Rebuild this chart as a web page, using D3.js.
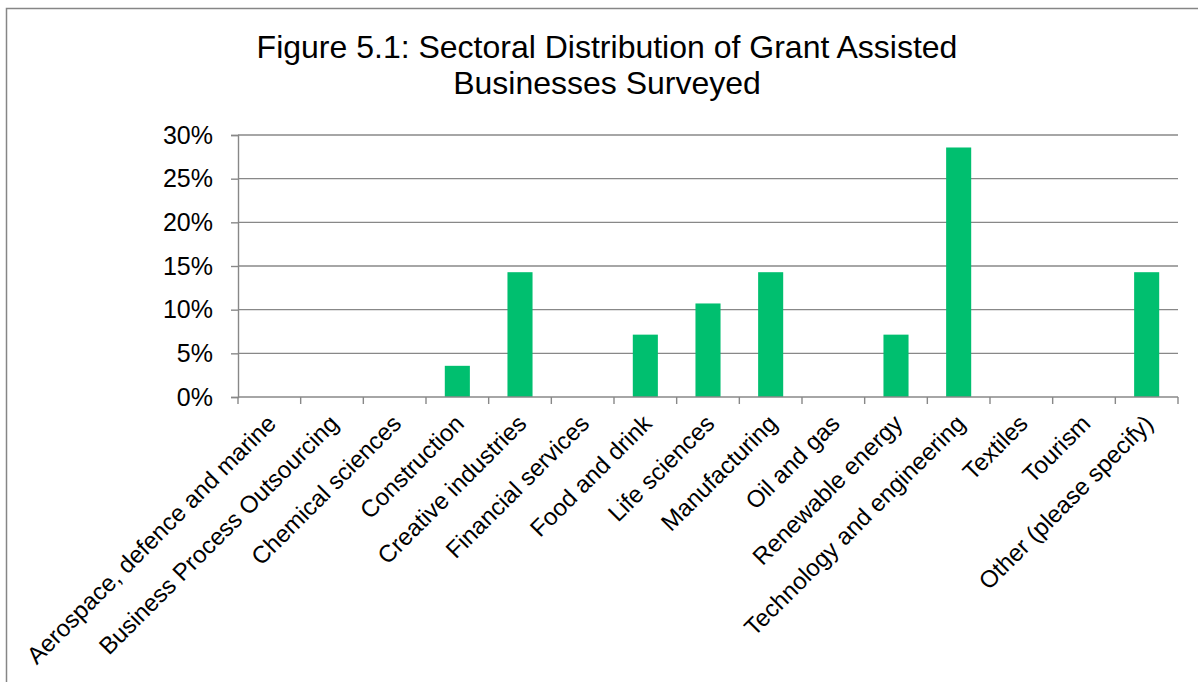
<!DOCTYPE html>
<html><head><meta charset="utf-8">
<script src="https://cdn.jsdelivr.net/npm/d3@7"></script>
<style>body{margin:0;background:#fff}svg{display:block}text{font-family:"Liberation Sans",Arial,sans-serif;fill:#000}</style>
</head><body>
<script>
const categories = ["Aerospace, defence and marine","Business Process Outsourcing","Chemical sciences","Construction","Creative industries","Financial services","Food and drink","Life sciences","Manufacturing","Oil and gas","Renewable energy","Technology and engineering","Textiles","Tourism","Other (please specify)"];
const values = [0,0,0,0.0357,0.1429,0,0.0714,0.1071,0.1429,0,0.0714,0.2857,0,0,0.1429];
const yTicks = [0,0.05,0.10,0.15,0.20,0.25,0.30];
const titleLines = ["Figure 5.1: Sectoral Distribution of Grant Assisted","Businesses Surveyed"];

const W=1198,H=682;
const svg=d3.select("body").append("svg").attr("width",W).attr("height",H);
svg.append("rect").attr("x",6.5).attr("y",8.5).attr("width",1300).attr("height",800).attr("fill","none").attr("stroke","#868686").attr("stroke-width",1.5);

const x0=238,x1=1178,yTop=135,yBot=397;
const x=d3.scaleBand().domain(categories).range([x0,x1]).paddingInner(0.6).paddingOuter(0.3);
const xb=d3.scaleBand().domain(categories).range([x0,x1]);
const y=d3.scaleLinear().domain([0,0.30]).range([yBot,yTop]);
const grey="#888888";

// gridlines
svg.append("g").selectAll("line").data(yTicks.filter(d=>d>0)).join("line")
 .attr("x1",x0).attr("x2",x1).attr("y1",d=>y(d)).attr("y2",d=>y(d)).attr("stroke",grey).attr("stroke-width",1.4);

// y axis
const ya=svg.append("g").attr("transform",`translate(${x0},0)`).call(d3.axisLeft(y).tickValues(yTicks).tickFormat(d3.format(".0%")).tickSize(7).tickPadding(18));
ya.select(".domain").attr("stroke",grey).attr("stroke-width",1.4);
ya.selectAll(".tick line").attr("stroke",grey).attr("stroke-width",1.4);
ya.selectAll("text").attr("font-size",25).attr("fill","#000").attr("font-family","Liberation Sans, Arial, sans-serif");

// bars
svg.append("g").selectAll("rect").data(categories).join("rect")
 .attr("x",d=>x(d)).attr("width",x.bandwidth())
 .attr("y",(d,i)=>y(values[i])).attr("height",(d,i)=>yBot-y(values[i]))
 .attr("fill","#00BF6F");

// x axis
svg.append("line").attr("x1",x0).attr("x2",x1).attr("y1",yBot).attr("y2",yBot).attr("stroke",grey).attr("stroke-width",1.4);
const bounds=categories.map(c=>xb(c)).concat([x1]);
svg.append("g").selectAll("line").data(bounds).join("line")
 .attr("x1",d=>d).attr("x2",d=>d).attr("y1",yBot).attr("y2",yBot+7).attr("stroke",grey).attr("stroke-width",1.4);

svg.append("g").selectAll("text").data(categories).join("text")
 .attr("transform",d=>`translate(${xb(d)+xb.bandwidth()/2+8},${yBot+28}) rotate(-45)`)
 .attr("text-anchor","end").attr("font-size",24).text(d=>d);

// title
svg.append("g").selectAll("text").data(titleLines).join("text")
 .attr("x",607).attr("y",(d,i)=>58+i*36).attr("text-anchor","middle").attr("font-size",32).text(d=>d);
</script>
</body></html>
